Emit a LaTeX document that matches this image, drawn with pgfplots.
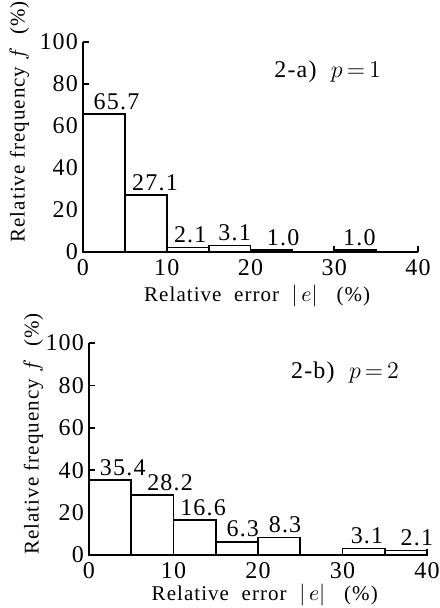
\documentclass[border=0pt]{standalone}
\usepackage{fontspec}
\setmainfont{Liberation Serif}[LetterSpace=5]
\usepackage{pgfplots}
\pgfplotsset{compat=1.18}

\pgfplotsset{
  histo/.style={
    scale only axis, width=167.5pt, height=105pt,
    xmin=0, xmax=40, ymin=0, ymax=100,
    axis lines*=left, axis line style={-, line width=0.9pt},
    xtick={0,10,20,30,40}, ytick={0,20,40,60,80,100},
    tick align=inside, major tick length=3pt,
    tick style={line width=0.8pt, black},
    /pgf/number format/assume math mode=true,
    tick label style={font=\fontsize{12pt}{13pt}\selectfont},
    yticklabel style={xshift=1pt},
    label style={font=\fontsize{10.5pt}{12pt}\selectfont},
    ylabel={Relative frequency $f$\ \ (\%)},
    xlabel={Relative\ \ error\ \ $|\,e|$\ \ \ (\%)},
    clip=false,
  },
  barlbl/.style={draw=none, mark=none, nodes near coords,
    point meta=explicit symbolic,
    every node near coord/.append style={anchor=south, inner sep=2pt,
      font=\fontsize{12pt}{13pt}\selectfont}},
}

\begin{document}
\begin{tikzpicture}
\useasboundingbox (-41.5pt,21pt) rectangle (178pt,-283pt);

% 2-a) p=1
\begin{axis}[histo, name=top, at={(0,0)}, anchor=north west,
  ylabel style={at={(axis description cs:-0.19,0.62)}, anchor=center},
  xlabel style={at={(axis description cs:0.52,-0.21)}, anchor=center}]
  \addplot[ybar interval, fill=white, draw=black, line width=0.9pt]
    coordinates {(0,65.7) (5,27.1) (10,2.1) (15,3.1) (20,1.0) (25,0) (30,1.0) (35,0) (40,0)};
  \addplot[barlbl] coordinates {(4.0,65.7)[65.7] (8.6,27.1)[27.1] (12.8,2.1)[2.1]
    (18.1,3.1)[3.1] (23.9,1.0)[1.0] (33.0,1.0)[1.0]};
  \node[font=\fontsize{12pt}{13pt}\selectfont] at (axis cs:29.2,86) {2-a)\ \ $p\,{=}\,1$};
\end{axis}

% 2-b) p=2
\begin{axis}[histo, at={(3pt,-150.5pt)}, anchor=north west, width=169pt, height=106pt,
  ylabel style={at={(axis description cs:-0.165,0.57)}, anchor=center},
  xlabel style={at={(axis description cs:0.52,-0.19)}, anchor=center}]
  \addplot[ybar interval, fill=white, draw=black, line width=0.9pt]
    coordinates {(0,35.4) (5,28.2) (10,16.6) (15,6.3) (20,8.3) (25,0) (30,3.1) (35,2.1) (40,0)};
  \addplot[barlbl] coordinates {(4.0,35.4)[35.4] (9.6,28.2)[28.2] (13.5,16.6)[16.6]
    (18.2,6.3)[6.3] (23.2,8.3)[8.3] (32.9,3.1)[3.1] (38.8,2.1)[2.1]};
  \node[font=\fontsize{12pt}{13pt}\selectfont] at (axis cs:30.3,86) {2-b)\ \ $p\,{=}\,2$};
\end{axis}
\end{tikzpicture}
\end{document}
